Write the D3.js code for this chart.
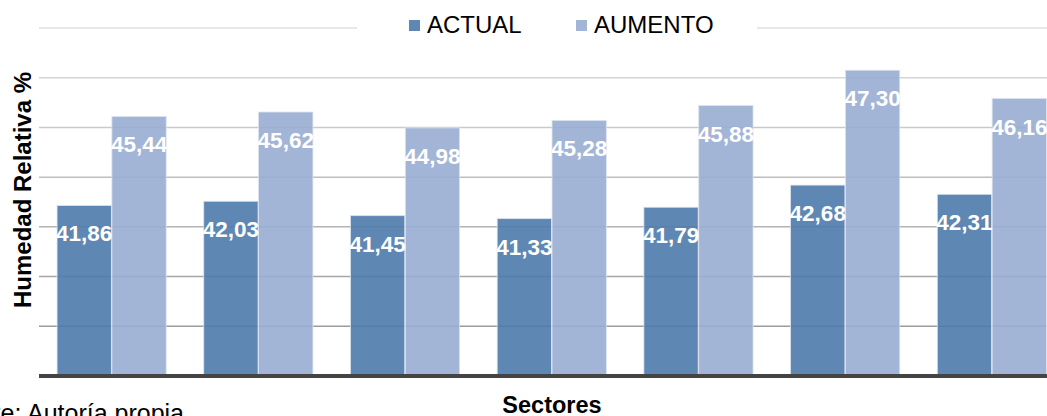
<!DOCTYPE html>
<html>
<head>
<meta charset="utf-8">
<script src="https://cdn.jsdelivr.net/npm/d3@7"></script>
<style>
  body { margin: 0; background: #fff; }
  text { font-family: "Liberation Sans", Arial, sans-serif; }
</style>
</head>
<body>
<div id="chart"></div>
<script>
const sectors = ["Sector 1", "Sector 2", "Sector 3", "Sector 4", "Sector 5", "Sector 6", "Sector 7"];
const actual = [41.86, 42.03, 41.45, 41.33, 41.79, 42.68, 42.31];
const aumento = [45.44, 45.62, 44.98, 45.28, 45.88, 47.30, 46.16];
const seriesNames = ["ACTUAL", "AUMENTO"];
const gridTicks = [37, 39, 41, 43, 45, 47, 49];

const width = 1047;
const height = 416;

const svg = d3.select("#chart")
    .append("svg")
    .attr("width", width)
    .attr("height", height);

const x0 = d3.scaleBand()
    .domain(sectors)
    .range([39, 1064.5])
    .paddingInner(0.256)
    .paddingOuter(0.123);

const x1 = d3.scaleBand()
    .domain(seriesNames)
    .range([0, x0.bandwidth()])
    .paddingInner(0.01);

const y = d3.scaleLinear()
    .domain([35, 49])
    .range([376, 28]);

const color = d3.scaleOrdinal()
    .domain(seriesNames)
    .range(["#4e7aac", "#99add1"]);

// gridlines, lighter towards the top
const gridColor = d3.interpolateRgb("#9c9c9c", "#e0e0e0");
svg.append("g")
    .selectAll("line")
    .data(gridTicks)
    .enter().append("line")
    .attr("x1", 39)
    .attr("x2", width)
    .attr("y1", d => y(d))
    .attr("y2", d => y(d))
    .attr("stroke", (d, i) => gridColor(i / (gridTicks.length - 1)))
    .attr("stroke-width", 1.5);

const rows = sectors.map((s, i) => ({ sector: s, values: [actual[i], aumento[i]] }));

const groups = svg.selectAll(".group")
    .data(rows)
    .enter().append("g")
    .attr("class", "group")
    .attr("transform", d => `translate(${x0(d.sector)},0)`);

groups.selectAll("rect")
    .data(d => d.values.map((v, j) => ({ key: seriesNames[j], value: v })))
    .enter().append("rect")
    .attr("x", d => x1(d.key))
    .attr("y", d => y(d.value))
    .attr("width", x1.bandwidth())
    .attr("height", d => y(35) - y(d.value))
    .attr("fill", d => color(d.key))
    .attr("fill-opacity", 0.9)
    .attr("stroke", "#dbe3ef")
    .attr("stroke-width", 0.8);

groups.selectAll(".label")
    .data(d => d.values.map((v, j) => ({ key: seriesNames[j], value: v })))
    .enter().append("text")
    .attr("class", "label")
    .attr("x", d => x1(d.key) + x1.bandwidth() / 2)
    .attr("y", d => y(d.value) + 36)
    .attr("text-anchor", "middle")
    .attr("fill", "#fff")
    .attr("font-weight", "bold")
    .attr("font-size", 22.5)
    .text(d => d.value.toFixed(2).replace(".", ","));

// baseline
svg.append("line")
    .attr("x1", 39)
    .attr("x2", width)
    .attr("y1", y(35))
    .attr("y2", y(35))
    .attr("stroke", "#444")
    .attr("stroke-width", 4);

// legend
svg.append("rect")
    .attr("x", 357)
    .attr("y", 8)
    .attr("width", 400)
    .attr("height", 34)
    .attr("fill", "#fff");

const legendX = [409, 576];
const legend = svg.selectAll(".legend")
    .data(seriesNames)
    .enter().append("g")
    .attr("class", "legend")
    .attr("transform", (d, i) => `translate(${legendX[i]},0)`);

legend.append("rect")
    .attr("x", 0)
    .attr("y", 20)
    .attr("width", 11)
    .attr("height", 11)
    .attr("fill", d => color(d))
    .attr("fill-opacity", 0.9);

legend.append("text")
    .attr("x", 18)
    .attr("y", 33)
    .attr("font-size", 24)
    .attr("fill", "#000")
    .text(d => d);

// axis titles
svg.append("text")
    .attr("x", 552)
    .attr("y", 413)
    .attr("text-anchor", "middle")
    .attr("font-weight", "bold")
    .attr("font-size", 23.5)
    .text("Sectores");

svg.append("text")
    .attr("transform", "translate(31,190) rotate(-90)")
    .attr("text-anchor", "middle")
    .attr("font-weight", "bold")
    .attr("font-size", 24)
    .text("Humedad Relativa %");

svg.append("text")
    .attr("x", 184)
    .attr("y", 422)
    .attr("text-anchor", "end")
    .attr("font-size", 25)
    .text("Fuente: Autoría propia");
</script>
</body>
</html>
